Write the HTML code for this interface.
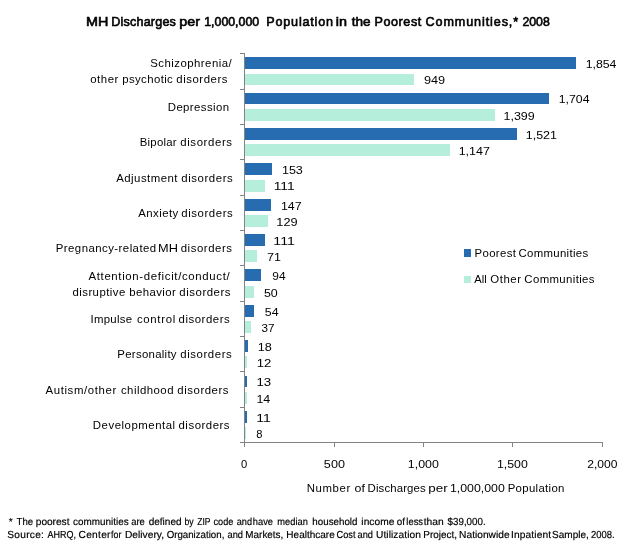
<!DOCTYPE html>
<html lang="en"><head><meta charset="utf-8"><title>MH Discharges per 1,000,000 Population in the Poorest Communities, 2008</title>
<style>html,body{margin:0;padding:0;background:#fff}svg{display:block}text{font-family:"Liberation Sans",sans-serif;fill:#000}</style></head><body>
<svg width="631" height="546" viewBox="0 0 631 546">
<rect width="631" height="546" fill="#fff"/>
<g shape-rendering="crispEdges">
<rect x="245" y="57" width="331" height="12" fill="#276BB0"/>
<rect x="245" y="74" width="169" height="11" fill="#B5EFDB"/>
<rect x="245" y="93" width="304" height="11" fill="#276BB0"/>
<rect x="245" y="109" width="250" height="12" fill="#B5EFDB"/>
<rect x="245" y="128" width="272" height="12" fill="#276BB0"/>
<rect x="245" y="144" width="205" height="12" fill="#B5EFDB"/>
<rect x="245" y="163" width="27" height="12" fill="#276BB0"/>
<rect x="245" y="180" width="20" height="12" fill="#B5EFDB"/>
<rect x="245" y="199" width="26" height="12" fill="#276BB0"/>
<rect x="245" y="215" width="23" height="12" fill="#B5EFDB"/>
<rect x="245" y="234" width="20" height="12" fill="#276BB0"/>
<rect x="245" y="250" width="12" height="12" fill="#B5EFDB"/>
<rect x="245" y="269" width="16" height="12" fill="#276BB0"/>
<rect x="245" y="286" width="9" height="12" fill="#B5EFDB"/>
<rect x="245" y="305" width="9" height="12" fill="#276BB0"/>
<rect x="245" y="321" width="6" height="12" fill="#B5EFDB"/>
<rect x="245" y="340" width="3" height="12" fill="#276BB0"/>
<rect x="245" y="356" width="2" height="12" fill="#B5EFDB"/>
<rect x="245" y="376" width="2" height="11" fill="#276BB0"/>
<rect x="245" y="392" width="2" height="12" fill="#B5EFDB"/>
<rect x="245" y="411" width="2" height="12" fill="#276BB0"/>
<rect x="245" y="427" width="1" height="12" fill="#B5EFDB"/>
<rect x="244" y="53" width="1" height="394" fill="#838383"/>
<rect x="240" y="442" width="363" height="1" fill="#838383"/>
<rect x="240" y="53" width="4" height="1" fill="#838383"/>
<rect x="240" y="89" width="4" height="1" fill="#838383"/>
<rect x="240" y="124" width="4" height="1" fill="#838383"/>
<rect x="240" y="159" width="4" height="1" fill="#838383"/>
<rect x="240" y="195" width="4" height="1" fill="#838383"/>
<rect x="240" y="230" width="4" height="1" fill="#838383"/>
<rect x="240" y="265" width="4" height="1" fill="#838383"/>
<rect x="240" y="301" width="4" height="1" fill="#838383"/>
<rect x="240" y="336" width="4" height="1" fill="#838383"/>
<rect x="240" y="371" width="4" height="1" fill="#838383"/>
<rect x="240" y="407" width="4" height="1" fill="#838383"/>
<rect x="334" y="442" width="1" height="5" fill="#838383"/>
<rect x="423" y="442" width="1" height="5" fill="#838383"/>
<rect x="512" y="442" width="1" height="5" fill="#838383"/>
<rect x="602" y="442" width="1" height="5" fill="#838383"/>
<rect x="464" y="249" width="7" height="8" fill="#276BB0"/>
<rect x="464" y="276" width="7" height="7" fill="#B5EFDB"/>
</g>
<text y="26" font-size="12.6" stroke="#000" stroke-width="0.6"><tspan x="86.13" textLength="22.36" lengthAdjust="spacingAndGlyphs">MH</tspan> <tspan x="111.25" textLength="64.66" lengthAdjust="spacing">Discharges</tspan> <tspan x="179.24" textLength="20.68" lengthAdjust="spacingAndGlyphs">per</tspan> <tspan x="204.22" textLength="54.92" lengthAdjust="spacingAndGlyphs">1,000,000</tspan> <tspan x="266.25" textLength="66.81" lengthAdjust="spacing">Population</tspan> <tspan x="335.87" textLength="11.18" lengthAdjust="spacingAndGlyphs">in</tspan> <tspan x="351.80" textLength="18.85" lengthAdjust="spacingAndGlyphs">the</tspan> <tspan x="374.50" textLength="46.77" lengthAdjust="spacing">Poorest</tspan> <tspan x="425.48" textLength="92.66" lengthAdjust="spacing">Communities,*</tspan> <tspan x="522.48" textLength="27.32" lengthAdjust="spacingAndGlyphs">2008</tspan></text>
<text x="150.31" y="67" font-size="11.4" textLength="81.32" lengthAdjust="spacing">Schizophrenia/</text>
<text y="83" font-size="11.4"><tspan x="90.21" textLength="28.17" lengthAdjust="spacing">other</tspan> <tspan x="122.26" textLength="50.52" lengthAdjust="spacing">psychotic</tspan> <tspan x="176.28" textLength="51.24" lengthAdjust="spacing">disorders</tspan></text>
<text x="167.75" y="111" font-size="11.4" textLength="61.24" lengthAdjust="spacing">Depression</text>
<text y="146" font-size="11.4"><tspan x="139.75" textLength="36.87" lengthAdjust="spacing">Bipolar</tspan> <tspan x="180.28" textLength="51.72" lengthAdjust="spacing">disorders</tspan></text>
<text y="182" font-size="11.4"><tspan x="116.16" textLength="61.34" lengthAdjust="spacing">Adjustment</tspan> <tspan x="181.32" textLength="51.44" lengthAdjust="spacing">disorders</tspan></text>
<text y="217" font-size="11.4"><tspan x="138.25" textLength="40.05" lengthAdjust="spacing">Anxiety</tspan> <tspan x="181.32" textLength="51.44" lengthAdjust="spacing">disorders</tspan></text>
<text y="252" font-size="11.4"><tspan x="55.73" textLength="100.44" lengthAdjust="spacing">Pregnancy-related</tspan> <tspan x="158.06" textLength="19.88" lengthAdjust="spacingAndGlyphs">MH</tspan> <tspan x="180.72" textLength="51.21" lengthAdjust="spacing">disorders</tspan></text>
<text x="88.48" y="280" font-size="11.4" textLength="141.16" lengthAdjust="spacing">Attention-deficit/conduct/</text>
<text y="296" font-size="11.4"><tspan x="72.51" textLength="52.72" lengthAdjust="spacing">disruptive</tspan> <tspan x="129.16" textLength="46.62" lengthAdjust="spacing">behavior</tspan> <tspan x="179.32" textLength="51.19" lengthAdjust="spacing">disorders</tspan></text>
<text y="323" font-size="11.4"><tspan x="90.54" textLength="41.44" lengthAdjust="spacing">Impulse</tspan> <tspan x="136.90" textLength="38.32" lengthAdjust="spacing">control</tspan> <tspan x="178.50" textLength="51.25" lengthAdjust="spacing">disorders</tspan></text>
<text y="358" font-size="11.4"><tspan x="117.35" textLength="59.19" lengthAdjust="spacing">Personality</tspan> <tspan x="180.28" textLength="51.47" lengthAdjust="spacing">disorders</tspan></text>
<text y="394" font-size="11.4"><tspan x="45.48" textLength="70.87" lengthAdjust="spacing">Autism/other</tspan> <tspan x="120.90" textLength="52.62" lengthAdjust="spacing">childhood</tspan> <tspan x="177.28" textLength="51.27" lengthAdjust="spacing">disorders</tspan></text>
<text y="429" font-size="11.4"><tspan x="92.86" textLength="82.27" lengthAdjust="spacing">Developmental</tspan> <tspan x="178.50" textLength="51.05" lengthAdjust="spacing">disorders</tspan></text>
<text x="585.66" y="68" font-size="11.2" textLength="30.78" lengthAdjust="spacingAndGlyphs">1,854</text>
<text x="423.95" y="84" font-size="11.2" textLength="21.20" lengthAdjust="spacingAndGlyphs">949</text>
<text x="558.76" y="103" font-size="11.2" textLength="30.72" lengthAdjust="spacingAndGlyphs">1,704</text>
<text x="503.51" y="120" font-size="11.2" textLength="31.23" lengthAdjust="spacingAndGlyphs">1,399</text>
<text x="525.80" y="139" font-size="11.2" textLength="31.16" lengthAdjust="spacingAndGlyphs">1,521</text>
<text x="458.65" y="155" font-size="11.2" textLength="31.29" lengthAdjust="spacingAndGlyphs">1,147</text>
<text x="281.92" y="174" font-size="11.2" textLength="20.95" lengthAdjust="spacingAndGlyphs">153</text>
<text x="273.68" y="190" font-size="11.2" textLength="21.05" lengthAdjust="spacingAndGlyphs">111</text>
<text x="280.95" y="210" font-size="11.2" textLength="20.68" lengthAdjust="spacingAndGlyphs">147</text>
<text x="276.31" y="226" font-size="11.2" textLength="21.33" lengthAdjust="spacingAndGlyphs">129</text>
<text x="273.38" y="245" font-size="11.2" textLength="21.64" lengthAdjust="spacingAndGlyphs">111</text>
<text x="267.05" y="261" font-size="11.2" textLength="13.87" lengthAdjust="spacingAndGlyphs">71</text>
<text x="272.33" y="280" font-size="11.2" textLength="13.31" lengthAdjust="spacingAndGlyphs">94</text>
<text x="263.98" y="297" font-size="11.2" textLength="13.82" lengthAdjust="spacingAndGlyphs">50</text>
<text x="264.82" y="316" font-size="11.2" textLength="13.81" lengthAdjust="spacingAndGlyphs">54</text>
<text x="261.50" y="332" font-size="11.2" textLength="13.00" lengthAdjust="spacingAndGlyphs">37</text>
<text x="257.74" y="351" font-size="11.2" textLength="14.09" lengthAdjust="spacingAndGlyphs">18</text>
<text x="256.81" y="367" font-size="11.2" textLength="14.57" lengthAdjust="spacingAndGlyphs">12</text>
<text x="256.43" y="386" font-size="11.2" textLength="14.72" lengthAdjust="spacingAndGlyphs">13</text>
<text x="256.44" y="403" font-size="11.2" textLength="13.88" lengthAdjust="spacingAndGlyphs">14</text>
<text x="256.31" y="422" font-size="11.2" textLength="14.63" lengthAdjust="spacingAndGlyphs">11</text>
<text x="256.29" y="438" font-size="11.2">8</text>
<text y="257" font-size="11.4"><tspan x="474.43" textLength="41.56" lengthAdjust="spacing">Poorest</tspan> <tspan x="518.50" textLength="69.60" lengthAdjust="spacing">Communities</tspan></text>
<text y="283" font-size="11.4"><tspan x="474.34" textLength="12.36" lengthAdjust="spacingAndGlyphs">All</tspan> <tspan x="490.24" textLength="30.84" lengthAdjust="spacing">Other</tspan> <tspan x="524.32" textLength="70.20" lengthAdjust="spacing">Communities</tspan></text>
<text x="241.12" y="468" font-size="11.2">0</text>
<text x="323.88" y="468" font-size="11.2" textLength="21.03" lengthAdjust="spacingAndGlyphs">500</text>
<text x="407.81" y="468" font-size="11.2" textLength="31.05" lengthAdjust="spacingAndGlyphs">1,000</text>
<text x="496.95" y="468" font-size="11.2" textLength="30.86" lengthAdjust="spacingAndGlyphs">1,500</text>
<text x="587.31" y="468" font-size="11.2" textLength="30.19" lengthAdjust="spacingAndGlyphs">2,000</text>
<text y="492" font-size="11.4"><tspan x="306.75" textLength="43.45" lengthAdjust="spacing">Number</tspan> <tspan x="354.50" textLength="10.35" lengthAdjust="spacingAndGlyphs">of</tspan> <tspan x="367.55" textLength="58.17" lengthAdjust="spacing">Discharges</tspan> <tspan x="428.29" textLength="19.38" lengthAdjust="spacingAndGlyphs">per</tspan> <tspan x="449.94" textLength="54.87" lengthAdjust="spacingAndGlyphs">1,000,000</tspan> <tspan x="507.63" textLength="56.76" lengthAdjust="spacing">Population</tspan></text>
<text transform="translate(8.66,525) skewX(0.03)" font-size="10.2" stroke="#000" stroke-width="0.18"><tspan x="0.00">*</tspan> <tspan x="7.92" textLength="16.61" lengthAdjust="spacingAndGlyphs">The</tspan> <tspan x="27.10" textLength="33.73" lengthAdjust="spacing">poorest</tspan> <tspan x="64.44" textLength="55.52" lengthAdjust="spacingAndGlyphs">communities</tspan> <tspan x="122.49" textLength="13.66" lengthAdjust="spacingAndGlyphs">are</tspan> <tspan x="139.99" textLength="32.94" lengthAdjust="spacingAndGlyphs">defined</tspan> <tspan x="175.84" textLength="9.22" lengthAdjust="spacingAndGlyphs">by</tspan> <tspan x="188.62" textLength="13.16" lengthAdjust="spacingAndGlyphs">ZIP</tspan> <tspan x="204.85" textLength="19.80" lengthAdjust="spacingAndGlyphs">code</tspan> <tspan x="228.07" textLength="15.28" lengthAdjust="spacingAndGlyphs">and</tspan> <tspan x="244.16" textLength="20.18" lengthAdjust="spacingAndGlyphs">have</tspan> <tspan x="268.70" textLength="30.45" lengthAdjust="spacingAndGlyphs">median</tspan> <tspan x="303.66" textLength="45.17" lengthAdjust="spacingAndGlyphs">household</tspan> <tspan x="352.66" textLength="33.13" lengthAdjust="spacing">income</tspan> <tspan x="388.06" textLength="8.24" lengthAdjust="spacingAndGlyphs">of</tspan> <tspan x="397.71" textLength="16.66" lengthAdjust="spacingAndGlyphs">less</tspan> <tspan x="415.03" textLength="19.97" lengthAdjust="spacingAndGlyphs">than</tspan> <tspan x="438.91" textLength="38.06" lengthAdjust="spacingAndGlyphs">$39,000.</tspan></text>
<text transform="translate(7.24,538) skewX(0.03)" font-size="10.2" stroke="#000" stroke-width="0.18"><tspan x="0.00" textLength="36.68" lengthAdjust="spacing">Source:</tspan> <tspan x="40.16" textLength="28.50" lengthAdjust="spacingAndGlyphs">AHRQ,</tspan> <tspan x="71.26" textLength="32.03" lengthAdjust="spacing">Center</tspan> <tspan x="103.85" textLength="10.34" lengthAdjust="spacingAndGlyphs">for</tspan> <tspan x="117.67" textLength="39.13" lengthAdjust="spacing">Delivery,</tspan> <tspan x="159.42" textLength="57.70" lengthAdjust="spacingAndGlyphs">Organization,</tspan> <tspan x="220.24" textLength="15.49" lengthAdjust="spacingAndGlyphs">and</tspan> <tspan x="238.12" textLength="37.95" lengthAdjust="spacingAndGlyphs">Markets,</tspan> <tspan x="279.10" textLength="48.43" lengthAdjust="spacingAndGlyphs">Healthcare</tspan> <tspan x="329.38" textLength="18.89" lengthAdjust="spacingAndGlyphs">Cost</tspan> <tspan x="350.28" textLength="15.41" lengthAdjust="spacingAndGlyphs">and</tspan> <tspan x="368.74" textLength="44.90" lengthAdjust="spacing">Utilization</tspan> <tspan x="416.13" textLength="33.62" lengthAdjust="spacingAndGlyphs">Project,</tspan> <tspan x="451.84" textLength="50.54" lengthAdjust="spacing">Nationwide</tspan> <tspan x="503.86" textLength="39.99" lengthAdjust="spacing">Inpatient</tspan> <tspan x="544.86" textLength="36.81" lengthAdjust="spacingAndGlyphs">Sample,</tspan> <tspan x="583.81" textLength="23.68" lengthAdjust="spacingAndGlyphs">2008.</tspan></text>
</svg></body></html>
